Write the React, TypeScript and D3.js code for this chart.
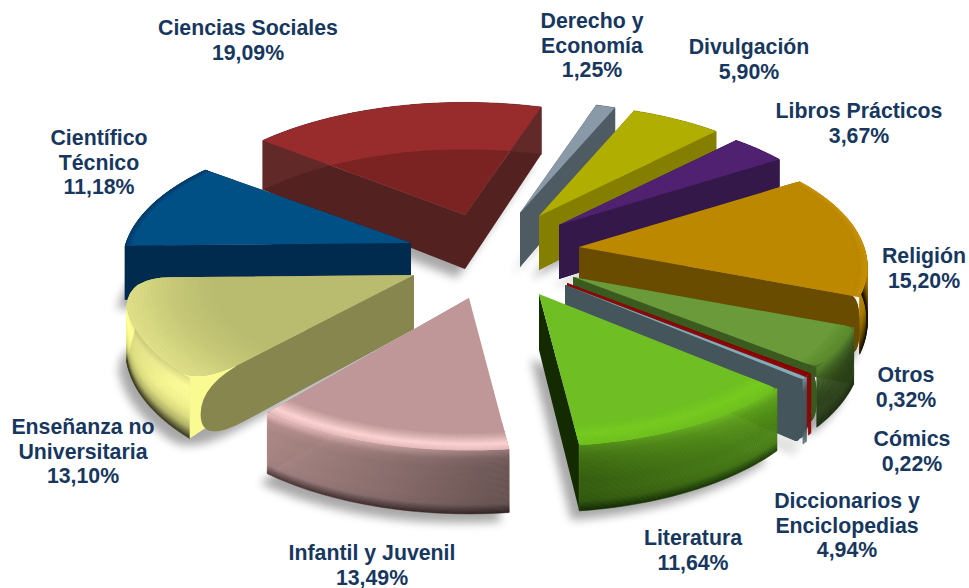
import React from "react";
import * as d3 from "d3";

// ---- data (clockwise from the back of the pie) ----
const categories = ["Derecho y Economía","Divulgación","Libros Prácticos","Religión","Diccionarios y Enciclopedias","Cómics","Otros","Literatura","Infantil y Juvenil","Enseñanza no Universitaria","Científico Técnico","Ciencias Sociales"];
const values = [1.25,5.90,3.67,15.20,4.94,0.22,0.32,11.64,13.49,13.10,11.18,19.09];

const labelLines = [
  ["Derecho y","Economía","1,25%"],
  ["Divulgación","5,90%"],
  ["Libros Prácticos","3,67%"],
  ["Religión","15,20%"],
  ["Diccionarios y","Enciclopedias","4,94%"],
  ["Cómics","0,22%"],
  ["Otros","0,32%"],
  ["Literatura","11,64%"],
  ["Infantil y Juvenil","13,49%"],
  ["Enseñanza no","Universitaria","13,10%"],
  ["Científico","Técnico","11,18%"],
  ["Ciencias Sociales","19,09%"],
];

// ---- layout & style, index-aligned with categories ----
const W = 969, H = 588;
const START = (17.8 * Math.PI) / 180;
const R = 285, QR = 129.5, K = 0.15;
const depths = [54,54,54,54,54,54,58,56,54,54,54,54];
const tipsX = [520,539,559,579,573,567,565,539,469,414,411,465];
const tipsY = [213,216,225,247,277,283,285,294,298,275,243,215];
const labelX = [592,749,859,924,847,912,906,693,372,83,99,248];
const labelY = [28,54,118,263,508,446,382,545,560,434,145,35];
const topColors = ["#8a99a8","#b0ae00","#4f2170","#bb8800","#6b9a3a","#8a0000","#85abb8","#6fbf24","#bf9798","#b9bb6f","#004f85","#982c2c"];
const innerColors = ["#4f5b63","#857f00","#35184a","#6a4c00","#3a5a20","#8a0a0a","#45555c","#142a00","#a08080","#87864f","#002b4e","#632a2a"];
const wallStops: string[][] = [
  ["#4f5b63","#4f5b63"],
  ["#857f00","#857f00"],
  ["#35184a","#35184a"],
  ["#bb8800","#b08000","#a87a00","#8a6400","#5c4400","#140c00"],
  ["#5d8a30","#3f6022","#30491a","#2a4018","#2a4018","#1a2a10"],
  ["#8a0a0a","#8a0a0a"],
  ["#7a9aa5","#4a5a62","#45555c","#45555c","#45555c","#6c7c84"],
  ["#70c420","#5fa41a","#559616","#4f8c14","#4a8414","#4a8414","#447a12","#1a3a05"],
  ["#f4c4c4","#b89290","#ab8886","#ab8886","#a88583","#a88583","#a08080","#4a3434"],
  ["#e6e688","#ffff99","#fbfb94","#f4f48e","#e0e080","#b0b066","#35351c"],
  ["#002b4e","#002b4e","#002b4e"],
  ["#632a2a","#632a2a"],
];
const rimWidth = [0,0,0,0.03,0.06,0,0,0.12,0.1,0.3,0.02,0];
const rimStops: string[][] = [
  [],[],[],
  ["#bb8800","#c89400"],
  ["#6b9a3a","#5d8a30"],
  [],[],
  ["#6fbf24","#78cc22","#70c020"],
  ["#bf9798","#dcb4b4","#ffd6d6","#e8bcbc"],
  ["#b9bb6f","#c8ca78","#e0e088"],
  ["#004f85","#00426f"],
  [],
];
// rounded corners: edge fraction and arc degrees at the start and at the end of each slice
const cornerEdgeStart = [0,0,0,0.03,0.03,0.03,0.03,0.03,0,0.19,0,0];
const cornerAngleStart = [0,0,0,2,2,0.3,0.4,2,0,6,0,0];
const cornerEdgeEnd = [0,0,0,0.03,0.05,0.03,0.03,0,0.02,0.15,0,0];
const cornerAngleEnd = [0,0,0,2,3,0.3,0.4,0,1,12,0,0];
const trimEnd = [0,0,0,0,0,0,0,0,3,0,1,0];
const trimWallStart = [0,0,0,0,0,0,0,0,0,3,0,0];
const drawStartWall = [1,1,1,1,1,1,1,0,0,1,1,1];
const wallOnTop = [2,2,2,2,2,2,2,0,0,1,1,0]; // 0 none, 1 start edge, 2 end edge
const shadeAcross = [0,0,0,0,0,0,0,-0.3,0.38,0,0,0];
const shadeDown = [0,0,0,0,0,0,0,0,0,0.22,0,0];
const drawOrder = [11,0,1,2,10,3,4,5,6,9,7,8];
const translucentFloor = [11];

const arcs = d3.pie<number>().sort(null).startAngle(START).endAngle(START + 2 * Math.PI)(values);
const deg = (v: number) => (v * Math.PI) / 180;
const a0Of = (i: number) => arcs[i].startAngle;
const a1Of = (i: number) => arcs[i].endAngle - deg(trimEnd[i]);

function pt(i: number, a: number, r: number, h: number): [number, number] {
  const X = r * Math.sin(a), Y = r * Math.cos(a);
  const s = 1 / (1 + K * Y);
  return [tipsX[i] + R * X * s, tipsY[i] - QR * Y * s + h * s];
}
const line = d3.line();
const arcPts = (i: number, a0: number, a1: number, r: number, h: number) =>
  d3.range(0, 41).map((k) => pt(i, a0 + ((a1 - a0) * k) / 40, r, h));

function band(i: number, a0: number, a1: number, r0: number, h0: number, r1: number, h1: number) {
  return line([...arcPts(i, a0, a1, r0, h0), ...arcPts(i, a1, a0, r1, h1)])! + "Z";
}
function topPath(i: number, h = 0) {
  const a0 = a0Of(i), a1 = a1Of(i);
  const d0 = deg(cornerAngleStart[i]), d1 = deg(cornerAngleEnd[i]);
  const p = d3.path();
  const tip = pt(i, 0, 0, h);
  p.moveTo(tip[0], tip[1]);
  const A = pt(i, a0, 1 - cornerEdgeStart[i], h), B = pt(i, a0, 1, h);
  p.lineTo(A[0], A[1]);
  const Bb = pt(i, a0 + d0, 1, h);
  p.quadraticCurveTo(B[0], B[1], Bb[0], Bb[1]);
  arcPts(i, a0 + d0, a1 - d1, 1, h).forEach((q) => p.lineTo(q[0], q[1]));
  const C = pt(i, a1, 1, h), Cc = pt(i, a1, 1 - cornerEdgeEnd[i], h);
  p.quadraticCurveTo(C[0], C[1], Cc[0], Cc[1]);
  p.closePath();
  return p.toString();
}
function sideWall(i: number, a: number, e: number) {
  const D0 = depths[i];
  const p = d3.path();
  const t0 = pt(i, 0, 0, 0), t1 = pt(i, 0, 0, D0);
  const A = pt(i, a, 1 - e, 0), B = pt(i, a, 1, 0), M = pt(i, a, 1, D0 / 2), Cc = pt(i, a, 1, D0), D = pt(i, a, 1 - e, D0);
  p.moveTo(t0[0], t0[1]);
  p.lineTo(A[0], A[1]);
  p.quadraticCurveTo(B[0], B[1], M[0], M[1]);
  p.quadraticCurveTo(Cc[0], Cc[1], D[0], D[1]);
  p.lineTo(t1[0], t1[1]);
  p.closePath();
  return p.toString();
}

const Slice = ({ i }: { i: number }) => {
  const a0 = a0Of(i), a1 = a1Of(i);
  const wa0 = a0 + deg(trimWallStart[i]);
  const wa1 = a1 - deg(cornerAngleEnd[i] > 5 ? cornerAngleEnd[i] : 0);
  const wallCol = d3.piecewise(d3.interpolateRgb, wallStops[i]);
  const D0 = depths[i];
  const bands = 54;
  const rw = rimWidth[i];
  const rimCol = rw > 0 ? d3.piecewise(d3.interpolateRgb, rimStops[i]) : null;
  const shade = shadeAcross[i];
  const wStart = <path d={sideWall(i, a0, cornerEdgeStart[i])} fill={innerColors[i]} />;
  const wEnd = <path d={sideWall(i, a1, cornerEdgeEnd[i])} fill={innerColors[i]} />;
  const tri = trimWallStart[i] > 0
    ? line([pt(i, a0, 0.85, 0), pt(i, wa0, 1, 0), pt(i, wa0, 1, D0), pt(i, a0, 0.85, D0 * 0.7)])! + "Z"
    : null;
  return (
    <g>
      {drawStartWall[i] === 1 && wStart}
      {wEnd}
      {d3.range(bands).map((k) => {
        const col = wallCol((k + 0.5) / bands);
        return <path key={k} d={band(i, wa0, wa1, 1, (D0 * k) / bands, 1, (D0 * (k + 1)) / bands)} fill={col} stroke={col} strokeWidth={0.6} />;
      })}
      {shade !== 0 && (
        <path d={band(i, wa0, wa1, 1, 0, 1, D0)} fill={`url(#shade${shade > 0 ? "R" : "L"})`} opacity={Math.abs(shade)} />
      )}
      {shadeDown[i] > 0 && (
        <path d={band(i, wa0, wa1, 0.95, 0, 1, D0)} fill="url(#shadeV)" opacity={shadeDown[i]} />
      )}
      <path d={band(i, a0, wa1, 0.85, 0, 1, 0)} fill={wallCol(0.12)} />
      {tri && <path d={tri} fill={wallCol(0.35)} />}
      {wallOnTop[i] === 1 && wStart}
      {wallOnTop[i] === 2 && wEnd}
      <path d={topPath(i)} fill={topColors[i]} />
      {rimCol && (
        <g clipPath={`url(#clip${i})`}>
          {d3.range(24).map((k) => {
            const col = rimCol((k + 0.5) / 24);
            return <path key={k} d={band(i, a0, a1, 1 - rw + (rw * k) / 24, 0, 1 - rw + (rw * (k + 1)) / 24, 0)} fill={col} stroke={col} strokeWidth={0.5} />;
          })}
        </g>
      )}
      {translucentFloor.includes(i) && <path d={topPath(i, D0)} fill="#2a0808" fillOpacity={0.26} />}
    </g>
  );
};

export default function App() {
  return (
    <svg width={W} height={H} viewBox={`0 0 ${W} ${H}`} style={{ position: "fixed", left: 0, top: 0, background: "#fff" }}>
      <defs>
        <filter id="soft" x="-20%" y="-20%" width="140%" height="140%">
          <feGaussianBlur stdDeviation="5" />
        </filter>
        <linearGradient id="shadeR" x1="0" x2="1" y1="0" y2="0">
          <stop offset="0" stopColor="#000" stopOpacity="0" />
          <stop offset="1" stopColor="#000" stopOpacity="1" />
        </linearGradient>
        <linearGradient id="shadeL" x1="0" x2="1" y1="0" y2="0">
          <stop offset="0" stopColor="#000" stopOpacity="1" />
          <stop offset="1" stopColor="#000" stopOpacity="0" />
        </linearGradient>
        <linearGradient id="shadeV" x1="0" x2="0" y1="0" y2="1">
          <stop offset="0" stopColor="#000" stopOpacity="1" />
          <stop offset="0.6" stopColor="#000" stopOpacity="0" />
        </linearGradient>
        {values.map((_, i) => (
          <clipPath id={`clip${i}`} key={i}>
            <path d={topPath(i)} />
          </clipPath>
        ))}
      </defs>
      <g filter="url(#soft)" opacity={0.34} transform="translate(-8,9)">
        {values.map((_, i) => (
          <path key={i} d={topPath(i, depths[i])} fill="#000" />
        ))}
      </g>
      {drawOrder.map((i) => (
        <Slice key={categories[i]} i={i} />
      ))}
      <g fontFamily="'Liberation Sans', Arial, sans-serif" fontWeight="700" fontSize={21.3} fill="#17375e" textAnchor="middle">
        {labelLines.map((lines, i) => (
          <text key={categories[i]} x={labelX[i]} y={labelY[i]}>
            {lines.map((l, k) => (
              <tspan key={k} x={labelX[i]} y={labelY[i] + k * 24.5}>{l}</tspan>
            ))}
          </text>
        ))}
      </g>
    </svg>
  );
}
